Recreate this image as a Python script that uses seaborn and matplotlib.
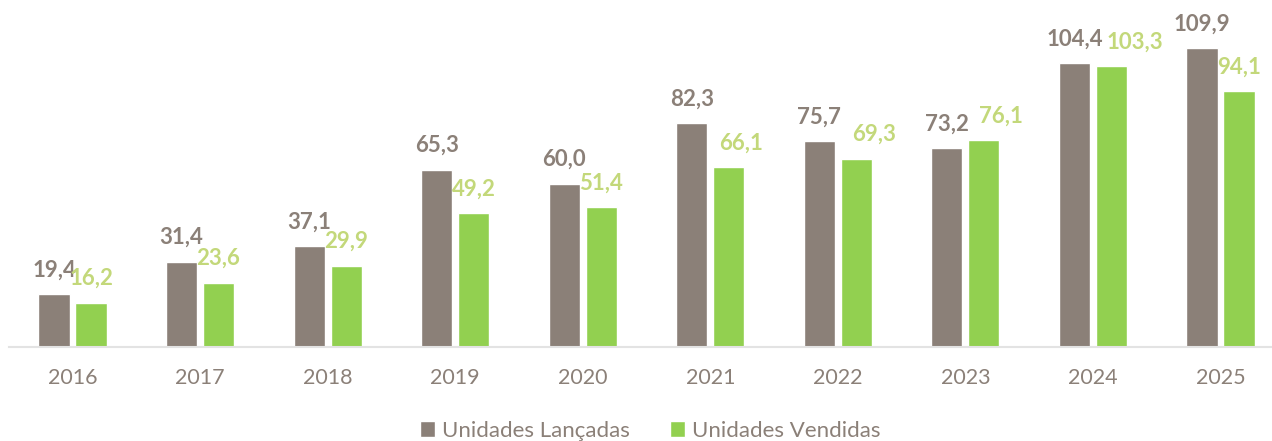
import pandas as pd
import matplotlib.pyplot as plt
import seaborn as sns

# ==========================
# Data
# ==========================
years = ["2016", "2017", "2018", "2019", "2020", "2021", "2022", "2023", "2024", "2025"]
lancadas = [19.4, 31.4, 37.1, 65.3, 60.0, 82.3, 75.7, 73.2, 104.4, 109.9]
vendidas = [16.2, 23.6, 29.9, 49.2, 51.4, 66.1, 69.3, 76.1, 103.3, 94.1]
series = ["Unidades Lançadas", "Unidades Vendidas"]

df = pd.DataFrame({
    "Ano": years * 2,
    "Valor": lancadas + vendidas,
    "Serie": [series[0]] * len(years) + [series[1]] * len(years),
})

brown = "#8B8078"
green = "#92D050"
green_txt = "#C3D87A"

# ==========================
# Plot
# ==========================
sns.set_style("white")
plt.rcParams["font.family"] = ["Lato", "DejaVu Sans"]

fig = plt.figure(figsize=(12.72, 4.41), dpi=100)
ax = fig.add_axes([8.7 / 1272, 94 / 441, 1275.6 / 1272, 326 / 441])

sns.barplot(
    data=df,
    x="Ano",
    y="Valor",
    hue="Serie",
    palette=[brown, green],
    width=0.58,
    gap=0.16,
    saturation=1,
    ax=ax,
)

label_sets = []
for container, col in zip(ax.containers, [brown, green_txt]):
    labels = [f"{v:.1f}".replace(".", ",") for v in container.datavalues]
    texts = ax.bar_label(container, labels=labels, padding=10, color=col,
                         fontsize=16, fontweight="bold")
    label_sets.append(texts)

# some sold labels sit a bit to the right of their bar (2021-2024)
for i, dx in [(5, 9), (6, 13), (7, 12), (8, 17)]:
    label_sets[1][i].xyann = (dx, 10)

ax.set_ylim(0, 120)
ax.set_xlim(-0.5, 9.5)
ax.set_xlabel("")
ax.set_ylabel("")
ax.set_yticks([])
ax.tick_params(axis="x", length=0, pad=15, labelsize=15.5, labelcolor=brown)

for s in ["top", "right", "left"]:
    ax.spines[s].set_visible(False)
ax.spines["bottom"].set_color("#E3E3E3")
ax.spines["bottom"].set_linewidth(1.5)

ax.legend(
    loc="center",
    bbox_to_anchor=(650 / 1272, 10 / 441),
    bbox_transform=fig.transFigure,
    ncol=2,
    frameon=False,
    fontsize=16,
    labelcolor=brown,
    handlelength=0.7,
    handleheight=0.7,
    handletextpad=0.3,
    columnspacing=1.8,
)

plt.savefig("out.png", dpi=100)
